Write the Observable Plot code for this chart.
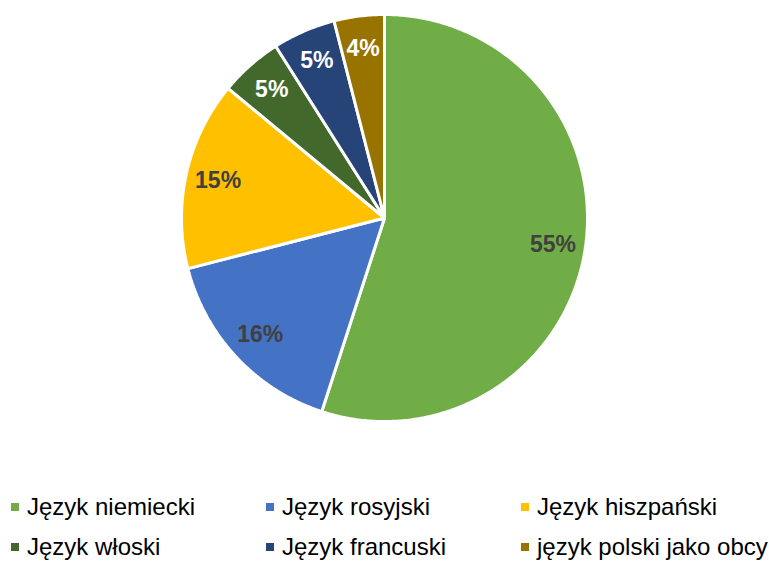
<!DOCTYPE html>
<html>
<head>
<meta charset="utf-8">
<script src="https://cdn.jsdelivr.net/npm/d3@7"></script>
<script src="https://cdn.jsdelivr.net/npm/@observablehq/plot@0.6"></script>
<style>
  html, body { margin: 0; padding: 0; background: #fff; }
  body { width: 769px; height: 562px; overflow: hidden; font-family: "Liberation Sans", Arial, sans-serif; }
  #legend { position: relative; margin-top: 47px; }
  .row { display: flex; height: 40px; }
  .item { display: flex; align-items: center; font-size: 24px; color: #000; line-height: 40px; white-space: nowrap; }
  .item:nth-child(1) { width: 255px; padding-left: 11px; }
  .item:nth-child(2) { width: 255px; }
  .item:nth-child(3) { width: 248px; }
  .sw { width: 8px; height: 8px; margin-right: 8px; flex: none; }
</style>
</head>
<body>
<div id="chart"></div>
<div id="legend"></div>
<script>
const languages = ["Język niemiecki", "Język rosyjski", "Język hiszpański", "Język włoski", "Język francuski", "język polski jako obcy"];
const shares = [55, 16, 15, 5, 5, 4];
const labels = ["55%", "16%", "15%", "5%", "5%", "4%"];
const colors = ["#70AD47", "#4472C4", "#FFC000", "#43682B", "#264478", "#997300"];
const labelColors = ["#404040", "#404040", "#404040", "#ffffff", "#ffffff", "#ffffff"];

const pie = d3.pie().sort(null).value(d => d.share);
const rows = languages.map((name, i) => ({name, share: shares[i], label: labels[i], i}));
const arcs = pie(rows);

// slice outlines in unit-circle coordinates (angle clockwise from top)
const outline = [];
for (const a of arcs) {
  const n = Math.max(2, Math.ceil((a.endAngle - a.startAngle) / 0.01));
  outline.push({name: a.data.name, x: 0, y: 0});
  for (let k = 0; k <= n; k++) {
    const t = a.startAngle + (a.endAngle - a.startAngle) * k / n;
    outline.push({name: a.data.name, x: Math.sin(t), y: Math.cos(t)});
  }
  outline.push({name: a.data.name, x: 0, y: 0});
}
const labelR = 0.84;
const labelPts = arcs.map(a => {
  const m = (a.startAngle + a.endAngle) / 2;
  return {label: a.data.label, i: a.data.i, x: labelR * Math.sin(m), y: labelR * Math.cos(m)};
});

const chart = Plot.plot({
  width: 769,
  height: 440,
  marginLeft: 181,
  marginRight: 182,
  marginTop: 14,
  marginBottom: 19,
  x: {domain: [-1, 1], axis: null},
  y: {domain: [-1, 1], axis: null},
  color: {domain: languages, range: colors},
  style: {fontFamily: "'Liberation Sans', Arial, sans-serif", background: "#fff"},
  marks: [
    Plot.line(outline, {x: "x", y: "y", z: "name", fill: "name", stroke: "#ffffff", strokeWidth: 3, strokeLinejoin: "miter"}),
    Plot.text(labelPts, {x: "x", y: "y", text: "label", fill: d => labelColors[d.i], fontSize: 23, fontWeight: "bold"})
  ]
});
document.getElementById("chart").appendChild(chart);

const legend = document.getElementById("legend");
for (let r = 0; r < 2; r++) {
  const row = document.createElement("div");
  row.className = "row";
  for (let c = 0; c < 3; c++) {
    const i = r * 3 + c;
    const item = document.createElement("div");
    item.className = "item";
    const sw = document.createElement("span");
    sw.className = "sw";
    sw.style.background = colors[i];
    const tx = document.createElement("span");
    tx.textContent = languages[i];
    item.appendChild(sw);
    item.appendChild(tx);
    row.appendChild(item);
  }
  legend.appendChild(row);
}
</script>
</body>
</html>
